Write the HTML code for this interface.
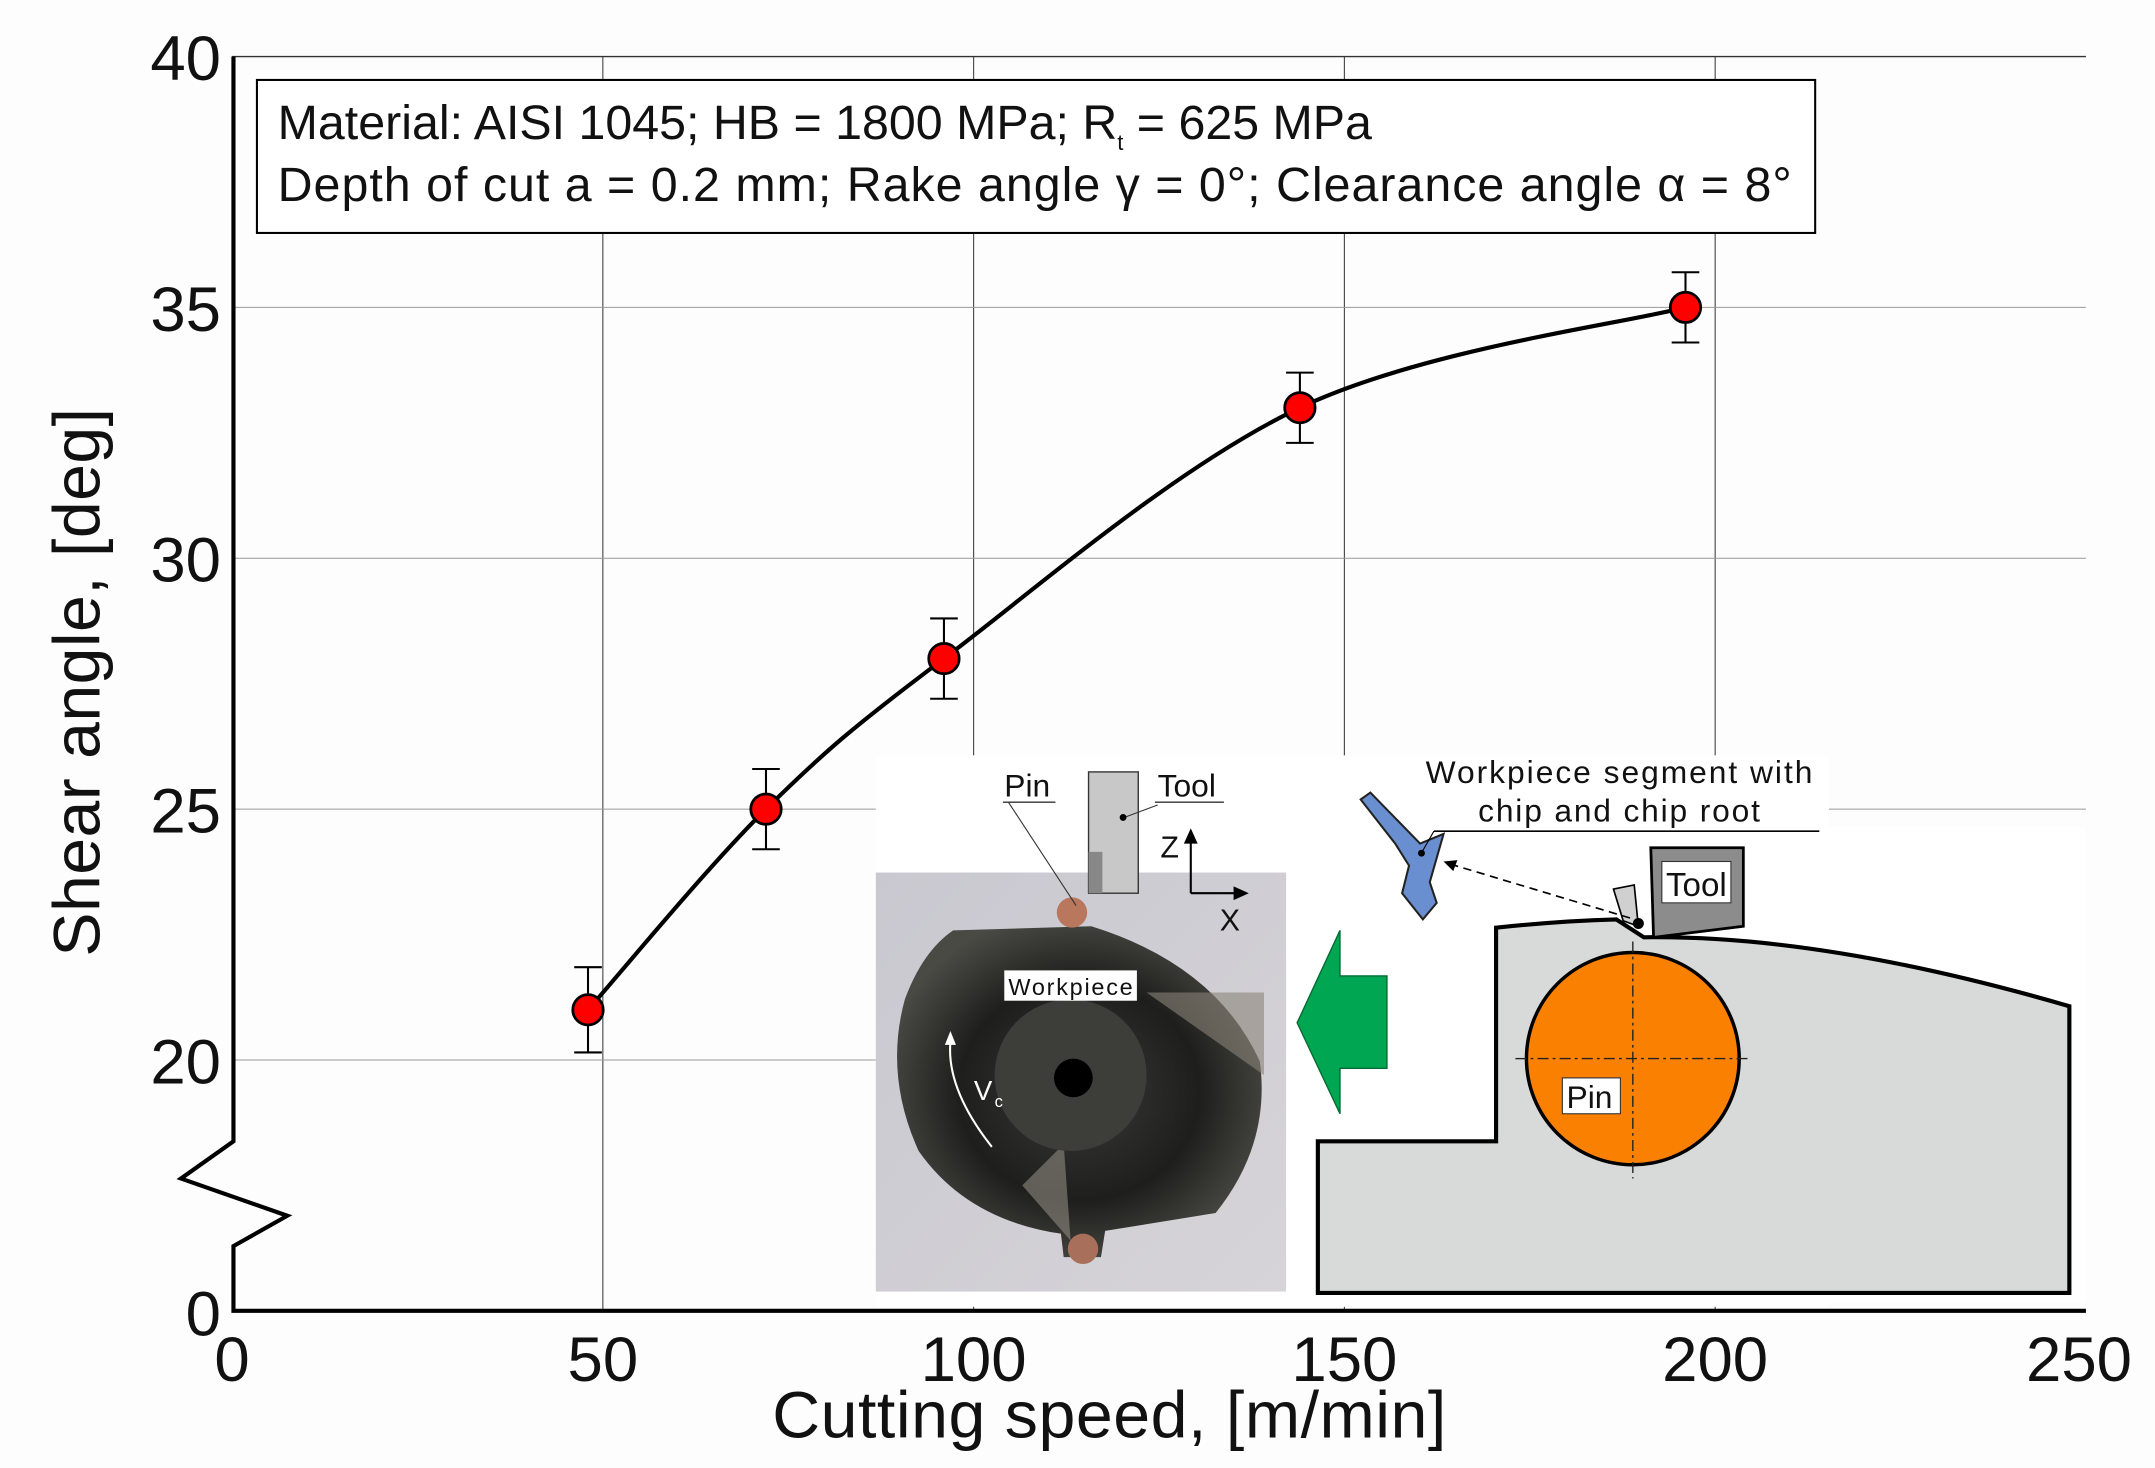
<!DOCTYPE html>
<html><head><meta charset="utf-8"><style>
html,body{margin:0;padding:0;background:#fff}
svg{display:block}
text{font-family:"Liberation Sans",Arial,sans-serif;fill:#111}
</style></head><body>
<svg id="chart" width="2155" height="1468" viewBox="0 0 1560 1065" preserveAspectRatio="none" xmlns="http://www.w3.org/2000/svg">
<rect width="1560" height="1065" fill="#fdfdfd"/>
<g id="grid"></g>
<g id="inset">
  <rect x="634" y="548" width="690" height="400" fill="#fff"/>
  <rect x="1324" y="600" width="186" height="345" fill="#fff"/>
  <g>
    <defs>
      <linearGradient id="bgph" x1="0" y1="0" x2="1" y2="1"><stop offset="0" stop-color="#c9c8d0"/><stop offset="1" stop-color="#d6d4d8"/></linearGradient>
      <radialGradient id="disc" cx="0.5" cy="0.5" r="0.55"><stop offset="0" stop-color="#3a3a38"/><stop offset="0.6" stop-color="#1e1e1c"/><stop offset="1" stop-color="#4a4a45"/></radialGradient>
    </defs>
    <rect x="634" y="633" width="297" height="304" fill="url(#bgph)"/>
    <path d="M690,675 L790,672 Q880,700 912,770 Q920,830 880,880 L800,893 L797,912 L770,912 L768,895 Q700,885 665,835 Q640,780 655,725 Q668,690 690,675 Z" fill="url(#disc)"/>
    <path d="M830,720 L915,720 L915,780 Z" fill="#8a8478" opacity="0.6"/>
    <path d="M740,860 L770,830 L775,900 Z" fill="#8f8a80" opacity="0.6"/>
    <circle cx="775" cy="780" r="55" fill="#3d3d3a"/>
    <circle cx="777" cy="782" r="14" fill="#000"/>
    <circle cx="776" cy="662" r="11" fill="#b9775d"/>
    <circle cx="784" cy="906" r="11" fill="#a8705a"/>
    <path d="M718,832 Q685,790 688,756" fill="none" stroke="#fff" stroke-width="1.5"/>
    <path d="M684,758 L688,748 L692,758 Z" fill="#fff"/>
    <text x="705" y="798" font-size="20" style="fill:#fff">V</text><text x="720" y="803" font-size="12" style="fill:#fff">c</text>
    <rect x="727" y="704" width="96" height="22" fill="#fff"/>
    <text x="730" y="722" font-size="17" textLength="90">Workpiece</text>
    <rect x="788" y="560" width="36" height="88" fill="#c8c8c8" stroke="#333" stroke-width="1"/>
    <rect x="788" y="618" width="10" height="30" fill="#888"/>
    <text x="727" y="578" font-size="23">Pin</text>
    <line x1="726" y1="582" x2="764" y2="582" stroke="#333"/>
    <line x1="730" y1="582" x2="779" y2="657" stroke="#333" stroke-width="0.8"/>
    <text x="838" y="578" font-size="23">Tool</text>
    <line x1="836" y1="582" x2="886" y2="582" stroke="#333"/>
    <line x1="838" y1="584" x2="814" y2="593" stroke="#333" stroke-width="0.8"/>
    <circle cx="813" cy="593" r="2.5" fill="#000"/>
    <text x="840" y="622" font-size="22">Z</text>
    <line x1="862" y1="648" x2="862" y2="604" stroke="#000" stroke-width="1.5"/><path d="M857,612 L862,601 L867,612 Z"/>
    <line x1="862" y1="648" x2="900" y2="648" stroke="#000" stroke-width="1.5"/><path d="M893,643 L904,648 L893,653 Z"/>
    <text x="883" y="675" font-size="22">X</text>
  </g>
  <path d="M970,675 L970,708 L1004,708 L1004,775 L970,775 L970,808 L939,742 Z" fill="#00a651" stroke="#006b33" stroke-width="1"/>
  <path d="M954,938 L954,828 L1083,828 L1083,673 Q1130,668 1170,667 L1190,680 Q1320,678 1498,730 L1498,938 Z" fill="#d8d9d9" stroke="#000" stroke-width="3"/>
  <circle cx="1182" cy="768" r="77" fill="#f98000" stroke="#000" stroke-width="2.5"/>
  <line x1="1182" y1="683" x2="1182" y2="855" stroke="#222" stroke-width="1" stroke-dasharray="8,3,2,3"/>
  <line x1="1097" y1="768" x2="1268" y2="768" stroke="#222" stroke-width="1" stroke-dasharray="8,3,2,3"/>
  <rect x="1131" y="782" width="42" height="26" fill="#fff" stroke="#333" stroke-width="0.8"/>
  <text x="1134" y="804" font-size="23">Pin</text>
  <path d="M1195,615 L1262,615 L1262,672 L1197,680 Z" fill="#8c8c8c" stroke="#000" stroke-width="2"/>
  <rect x="1203" y="625" width="50" height="30" fill="#fff" stroke="#333" stroke-width="0.8"/>
  <text x="1206" y="650" font-size="24">Tool</text>
  <path d="M1168,645 L1183,642 L1186,672 L1175,668 Z" fill="#d0d0d0" stroke="#000" stroke-width="1.2"/>
  <circle cx="1186" cy="670" r="4" fill="#000"/>
  <line x1="1180" y1="666" x2="1047" y2="626" stroke="#000" stroke-width="1.2" stroke-dasharray="6,4"/>
  <path d="M1045,625 L1055,624 L1052,632 Z"/>
  <path d="M985,580 L992,575 L1028,612 L1045,605 L1035,640 L1040,655 L1030,667 L1015,648 L1020,628 L1010,612 Z" fill="#6a8fd0" stroke="#222" stroke-width="1.5"/>
  <circle cx="1029" cy="619" r="2.5" fill="#000"/>
  <text x="1172" y="568" font-size="23" text-anchor="middle" textLength="280">Workpiece segment with</text>
  <text x="1172" y="596" font-size="23" text-anchor="middle" textLength="204">chip and chip root</text>
  <line x1="1038" y1="603" x2="1317" y2="603" stroke="#000" stroke-width="1.2"/>
  <line x1="1038" y1="603" x2="1030" y2="617" stroke="#000" stroke-width="0.8"/>
</g>
<g id="axes"></g>
<g id="series"></g>
<g>
  <rect x="186" y="58" width="1128" height="111" fill="#fff" stroke="#000" stroke-width="1.5"/>
  <text x="201" y="101" font-size="35">Material: AISI 1045; HB = 1800 MPa; R<tspan font-size="16" dy="8">t</tspan><tspan dy="-8"> = 625 MPa</tspan></text>
  <text x="201" y="146" font-size="35" textLength="1096">Depth of cut a = 0.2 mm; Rake angle γ = 0°; Clearance angle α = 8°</text>
</g>
<text x="803" y="1043" font-size="48" text-anchor="middle" textLength="488">Cutting speed, [m/min]</text>
<text x="0" y="0" font-size="48" text-anchor="middle" textLength="398" transform="translate(72,495) rotate(-90)">Shear angle, [deg]</text>
</svg>
<script>
const xCategories = [48, 72, 96, 144, 196];
const shearValues = [21, 25, 28, 33, 35];
const errorValues = [0.85, 0.8, 0.8, 0.7, 0.7];
const xTicks = [0, 50, 100, 150, 200, 250];
const yTicks = [20, 25, 30, 35, 40];
const NS = 'http://www.w3.org/2000/svg';
function X(v){return 168 + v*(1510-168)/250;}
function Y(v){ if(v<=0) return 951; return 769 - (v-20)*(769-41)/20; }
function mk(tag, attrs, parent){const e=document.createElementNS(NS,tag);for(const k in attrs)e.setAttribute(k,attrs[k]);parent.appendChild(e);return e;}
const grid=document.getElementById('grid'), axes=document.getElementById('axes'), series=document.getElementById('series');
xTicks.forEach(t=>{ if(t>0&&t<250){const l=mk('line',{x1:X(t),x2:X(t),y1:Y(40),y2:Y(0),stroke:'#444','stroke-width':0.8},grid);

}
 const tx=mk('text',{x:X(t)+(t===250?-5:0),y:1002,'font-size':46,'text-anchor':'middle'},axes); tx.textContent=t;
 
 });
yTicks.forEach(t=>{const l=mk('line',{x1:X(0),x2:X(250),y1:Y(t),y2:Y(t),stroke:t===40?'#333':'#999','stroke-width':t===40?1:0.8},grid);
 
 
 const tx=mk('text',{x:160,y:Y(t)+17,'font-size':46,'text-anchor':'end'},axes); tx.textContent=t;
 
 });
const z=mk('text',{x:160,y:Y(0)+18,'font-size':46,'text-anchor':'end'},axes); z.textContent='0';


const ax=mk('path',{d:`M169,${Y(40)} L169,828 L131,855 L208,882 L169,904 L169,951 L1510,951`,fill:'none',stroke:'#000','stroke-width':3},axes);


const P=xCategories.map((x,i)=>[X(x),Y(shearValues[i])]);
let d=`M${P[0][0]},${P[0][1]}`;
for(let i=0;i<P.length-1;i++){const p0=P[i-1]||P[i],p1=P[i],p2=P[i+1],p3=P[i+2]||P[i+1];
 d+=` C${p1[0]+(p2[0]-p0[0])/6},${p1[1]+(p2[1]-p0[1])/6} ${p2[0]-(p3[0]-p1[0])/6},${p2[1]-(p3[1]-p1[1])/6} ${p2[0]},${p2[1]}`;}
const curve=mk('path',{d:d,fill:'none',stroke:'#000','stroke-width':3},series);


xCategories.forEach((x,i)=>{const cx=X(x),v=shearValues[i],e=errorValues[i];
 const g=mk('g',{},series);
 
 
 mk('line',{x1:cx,x2:cx,y1:Y(v+e),y2:Y(v-e),stroke:'#000','stroke-width':1.5},g);
 mk('line',{x1:cx-10,x2:cx+10,y1:Y(v+e),y2:Y(v+e),stroke:'#000','stroke-width':1.5},g);
 mk('line',{x1:cx-10,x2:cx+10,y1:Y(v-e),y2:Y(v-e),stroke:'#000','stroke-width':1.5},g);
 const c=mk('circle',{cx:cx,cy:Y(v),r:11,fill:'#ff0000',stroke:'#000','stroke-width':2},series);
 
 });
</script>
</body></html>
